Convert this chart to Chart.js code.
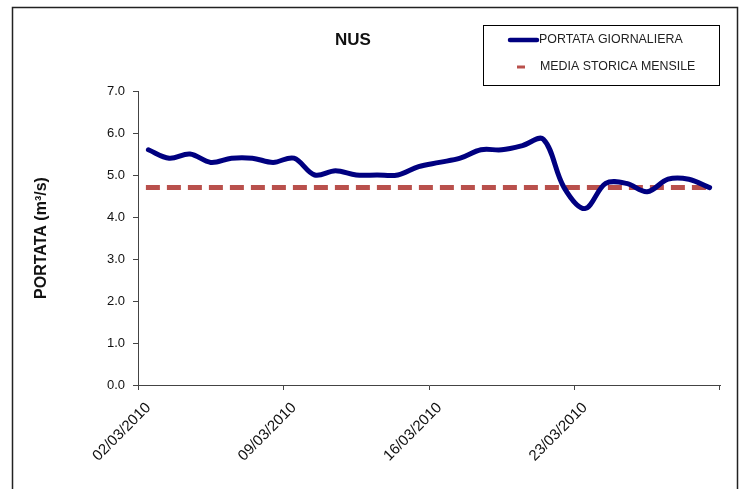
<!DOCTYPE html>
<html>
<head>
<meta charset="utf-8">
<script src="https://cdn.jsdelivr.net/npm/chart.js@4/dist/chart.umd.min.js"></script>
<style>
  html, body { margin: 0; padding: 0; background: #fff; }
  #wrap { width: 744px; height: 489px; position: relative; }
</style>
</head>
<body>
<div id="wrap"><canvas id="chart" width="744" height="489"></canvas></div>
<script>
// daily dates (category axis)
const dates = [
    '02/03/2010', '03/03/2010', '04/03/2010', '05/03/2010', '06/03/2010', '07/03/2010', '08/03/2010',
    '09/03/2010', '10/03/2010', '11/03/2010', '12/03/2010', '13/03/2010', '14/03/2010', '15/03/2010',
    '16/03/2010', '17/03/2010', '18/03/2010', '19/03/2010', '20/03/2010', '21/03/2010', '22/03/2010',
    '23/03/2010', '24/03/2010', '25/03/2010', '26/03/2010', '27/03/2010', '28/03/2010', '29/03/2010'
];

// portata giornaliera (m3/s)
const portata = [
    5.60, 5.40, 5.50, 5.30, 5.40, 5.40, 5.30,
    5.40, 5.00, 5.10, 5.00, 5.00, 5.00, 5.20,
    5.30, 5.40, 5.60, 5.60, 5.70, 5.85, 4.70,
    4.20, 4.80, 4.80, 4.60, 4.90, 4.90, 4.70
];

// media storica mensile
const media = [
    4.7, 4.7, 4.7, 4.7, 4.7, 4.7, 4.7,
    4.7, 4.7, 4.7, 4.7, 4.7, 4.7, 4.7,
    4.7, 4.7, 4.7, 4.7, 4.7, 4.7, 4.7,
    4.7, 4.7, 4.7, 4.7, 4.7, 4.7, 4.7
];

const yTicks = [0, 1, 2, 3, 4, 5, 6, 7];

const NAVY = '#000080';
const RED = '#B9504C';
const FONT = '"Liberation Sans", Arial, sans-serif';

// outer frame, title and boxed legend
const decor = {
    id: 'decor',
    afterDraw(chart) {
        const ctx = chart.ctx;
        ctx.save();
        ctx.strokeStyle = '#222';
        ctx.lineWidth = 1.5;
        ctx.beginPath();
        ctx.moveTo(12.5, 489);
        ctx.lineTo(12.5, 7.5);
        ctx.lineTo(737.5, 7.5);
        ctx.lineTo(737.5, 489);
        ctx.stroke();

        // title
        ctx.fillStyle = '#111';
        ctx.font = 'bold 17px ' + FONT;
        ctx.textAlign = 'center';
        ctx.textBaseline = 'middle';
        ctx.fillText('NUS', 353, 40);

        // legend box
        ctx.lineWidth = 1;
        ctx.strokeStyle = '#000';
        ctx.strokeRect(483.5, 25.5, 236, 60);

        const ds = chart.data.datasets;
        ctx.font = '12.4px ' + FONT;
        ctx.textAlign = 'left';
        ctx.fillStyle = '#222';

        ctx.strokeStyle = ds[0].borderColor;
        ctx.lineWidth = 4.5;
        ctx.lineCap = 'round';
        ctx.beginPath();
        ctx.moveTo(510, 40);
        ctx.lineTo(537, 40);
        ctx.stroke();
        ctx.fillText(ds[0].label, 539, 40);

        ctx.strokeStyle = ds[1].borderColor;
        ctx.lineWidth = 3;
        ctx.lineCap = 'butt';
        ctx.beginPath();
        ctx.moveTo(517, 67);
        ctx.lineTo(525, 67);
        ctx.stroke();
        ctx.fillText(ds[1].label, 540, 67);
        ctx.restore();
    }
};

const tickMark = (c) => (c.index === undefined || c.index % 7 === 0) ? '#444' : 'rgba(0,0,0,0)';

new Chart(document.getElementById('chart'), {
    type: 'line',
    data: {
        labels: dates,
        datasets: [{
            label: 'PORTATA GIORNALIERA',
            data: portata,
            borderColor: NAVY,
            borderWidth: 5,
            borderCapStyle: 'round',
            borderJoinStyle: 'round',
            pointRadius: 0,
            tension: 0.35,
            fill: false,
        }, {
            label: 'MEDIA STORICA MENSILE',
            data: media,
            borderColor: RED,
            borderWidth: 5,
            borderDash: [9, 12],
            borderCapStyle: 'square',
            pointRadius: 0,
            tension: 0,
            fill: false,
        }],
    },
    options: {
        responsive: false,
        animation: false,
        devicePixelRatio: 1,
        layout: { padding: { left: 28, top: 91, right: 24, bottom: 0 } },
        plugins: {
            legend: { display: false },
            title: { display: false },
            tooltip: { enabled: false },
        },
        scales: {
            x: {
                type: 'category',
                offset: true,
                afterFit(scale) { scale.height = 104; },
                grid: {
                    offset: true,
                    drawOnChartArea: false,
                    tickLength: 5,
                    color: tickMark,
                },
                border: { display: true, color: '#444', width: 1 },
                ticks: {
                    autoSkip: false,
                    minRotation: 45,
                    maxRotation: 45,
                    padding: 9,
                    color: '#111',
                    font: { family: FONT, size: 15 },
                    callback: (v, i) => i % 7 === 0 ? dates[i] : '',
                },
            },
            y: {
                min: yTicks[0],
                max: yTicks[yTicks.length - 1],
                afterFit(scale) { scale.width = 110; },
                afterBuildTicks(scale) { scale.ticks = yTicks.map(v => ({ value: v })); },
                grid: {
                    drawOnChartArea: false,
                    tickLength: 5,
                    color: '#444',
                },
                border: { display: true, color: '#444', width: 1 },
                ticks: {
                    padding: 8,
                    color: '#111',
                    font: { family: FONT, size: 13 },
                    callback: (v) => Number(v).toFixed(1),
                },
                title: {
                    display: true,
                    text: 'PORTATA (m³/s)',
                    color: '#111',
                    font: { family: FONT, size: 16, weight: 'bold' },
                    padding: { top: 4, bottom: 4 },
                },
            },
        },
    },
    plugins: [decor],
});
</script>
</body>
</html>
